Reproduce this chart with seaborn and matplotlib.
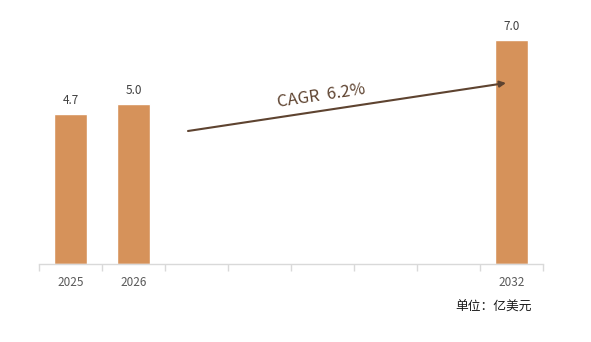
import matplotlib
matplotlib.use("Agg")
import matplotlib.pyplot as plt
import seaborn as sns
import pandas as pd
import numpy as np

all_years = ["2025", "2026", "2027", "2028", "2029", "2030", "2031", "2032"]
years = ["2025", "2026", "2032"]
values = [4.7, 5.0, 7.0]
value_labels = ["4.7", "5.0", "7.0"]
cagr_text = "CAGR  6.2%"
unit_text = "单位：亿美元"

sns.set_theme(style="white")
plt.rcParams['font.family'] = ['Noto Sans CJK SC', 'DejaVu Sans']

W, H = 591, 342
fig = plt.figure(figsize=(W / 100, H / 100), dpi=100)
ax = fig.add_axes([39 / W, 78 / H, (543 - 39) / W, (264 - 20) / H])

df = pd.DataFrame({"year": years, "value": values})
sns.barplot(data=df, x="year", y="value", order=all_years, color="#D6925A",
            width=0.52, saturation=1, ax=ax)

ax.set_ylim(0, 7.62)
ax.set_xlim(-0.5, len(all_years) - 0.5)
ax.set_xlabel("")
ax.set_ylabel("")
ax.set_yticks([])
for s in ["top", "right", "left"]:
    ax.spines[s].set_visible(False)
ax.spines["bottom"].set_color("#D9D9D9")
ax.spines["bottom"].set_linewidth(1.0)

ax.set_xticks(range(len(all_years)))
ax.set_xticklabels([y if y in years else "" for y in all_years],
                   fontsize=8.5, color="#595959")
ax.tick_params(axis="x", which="major", length=0, pad=9)
ax.set_xticks(np.arange(-0.5, len(all_years), 1.0), minor=True)
ax.tick_params(axis="x", which="minor", length=5, color="#D9D9D9", width=1.0, bottom=True)

for y, v, lab in zip(years, values, value_labels):
    ax.text(all_years.index(y), v + 0.2, lab, ha="center", va="bottom",
            fontsize=8.5, color="#404040")

# CAGR arrow
ax.annotate("", xy=(506 / W, 1 - 83 / H), xytext=(188 / W, 1 - 131 / H),
            xycoords="figure fraction", textcoords="figure fraction",
            arrowprops=dict(arrowstyle="-|>", color="#5E4330", lw=1.5,
                            mutation_scale=9, shrinkA=0, shrinkB=0))
fig.text(321 / W, 1 - 96 / H, cagr_text, rotation=8.6, ha="center", va="center",
         fontsize=12, color="#5E4330", rotation_mode="anchor")

fig.text(532 / W, 1 - 307 / H, unit_text, ha="right", va="center",
         fontsize=9.2, color="#1a1a1a")

fig.savefig("out.png", dpi=100)
